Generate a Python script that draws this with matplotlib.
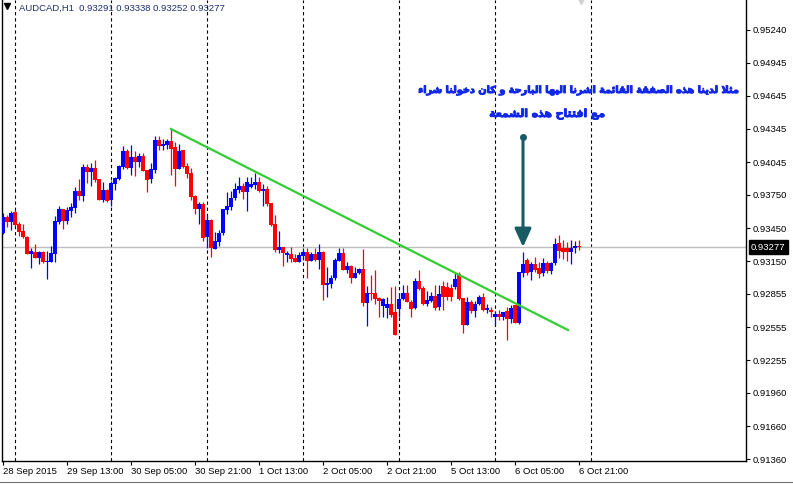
'''
AUDCAD H1 candles with trend line and a note
'''

import matplotlib.pyplot as plt
import matplotlib.patheffects as pe
from matplotlib.lines import Line2D

# hourly bars, index 0 = 28 Sep 2015 21:00
opens = [
    0.93405, 0.93549, 0.93504, 0.93594, 0.93486, 0.93423, 0.93369, 0.93215,
    0.93233, 0.93179, 0.93233, 0.93143, 0.93143, 0.93215, 0.93504, 0.93622,
    0.93513, 0.93604, 0.93631, 0.93784, 0.93739, 0.94001, 0.93956, 0.93992,
    0.93893, 0.93703, 0.93793, 0.93703, 0.93848, 0.93893, 0.94001, 0.94146,
    0.93992, 0.94092, 0.94046, 0.94101, 0.93974, 0.93893, 0.93974, 0.94245,
    0.94191, 0.94200, 0.94236, 0.94182, 0.93983, 0.94155, 0.94010, 0.93947,
    0.93739, 0.93622, 0.93667, 0.93369, 0.93522, 0.93260, 0.93323, 0.93405,
    0.93613, 0.93640, 0.93721, 0.93793, 0.93830, 0.93775, 0.93821, 0.93839,
    0.93866, 0.93784, 0.93803, 0.93676, 0.93486, 0.93251, 0.93278, 0.93206,
    0.93215, 0.93179, 0.93143, 0.93197, 0.93233, 0.93152, 0.93215, 0.93161,
    0.93233, 0.92935, 0.92944, 0.92998, 0.93152, 0.93224, 0.93070, 0.93107,
    0.92998, 0.93043, 0.93080, 0.92772, 0.92862, 0.92862, 0.92817, 0.92745,
    0.92727, 0.92763, 0.92691, 0.92718, 0.92808, 0.92862, 0.92781, 0.92727,
    0.92971, 0.92908, 0.92763, 0.92790, 0.92835, 0.92736, 0.92926, 0.92917,
    0.92908, 0.92917, 0.93034, 0.92817, 0.92573, 0.92781, 0.92700, 0.92763,
    0.92826, 0.92709, 0.92709, 0.92646, 0.92673, 0.92646, 0.92700, 0.92628,
    0.92754, 0.92591, 0.93043, 0.93161, 0.93052, 0.93125, 0.93089, 0.93043,
    0.93134, 0.93061, 0.93134, 0.93314, 0.93269, 0.93269, 0.93233, 0.93269,
    0.93291]
highs = [
    0.93585, 0.93567, 0.93604, 0.93613, 0.93504, 0.93486, 0.93378, 0.93269,
    0.93305, 0.93242, 0.93242, 0.93242, 0.93287, 0.93558, 0.93649, 0.93622,
    0.93640, 0.93676, 0.93821, 0.93893, 0.94028, 0.94028, 0.94037, 0.94065,
    0.93893, 0.93866, 0.93803, 0.93875, 0.93911, 0.94019, 0.94191, 0.94164,
    0.94200, 0.94146, 0.94128, 0.94128, 0.93974, 0.94037, 0.94282, 0.94282,
    0.94255, 0.94255, 0.94345, 0.94227, 0.94209, 0.94155, 0.94037, 0.93992,
    0.93748, 0.93685, 0.93685, 0.93567, 0.93531, 0.93414, 0.93432, 0.93622,
    0.93775, 0.93784, 0.93857, 0.93911, 0.93857, 0.93911, 0.93911, 0.93947,
    0.93911, 0.93848, 0.93830, 0.93676, 0.93567, 0.93423, 0.93278, 0.93242,
    0.93278, 0.93215, 0.93233, 0.93269, 0.93269, 0.93233, 0.93269, 0.93305,
    0.93242, 0.93098, 0.93025, 0.93179, 0.93269, 0.93269, 0.93143, 0.93116,
    0.93098, 0.93089, 0.93260, 0.92926, 0.93025, 0.93070, 0.92826, 0.92817,
    0.92826, 0.92917, 0.92926, 0.92862, 0.92935, 0.92935, 0.92799, 0.92998,
    0.93070, 0.92926, 0.92880, 0.92871, 0.92935, 0.92935, 0.92971, 0.92962,
    0.92944, 0.93043, 0.93052, 0.92817, 0.92826, 0.92799, 0.92790, 0.92844,
    0.92862, 0.92763, 0.92736, 0.92700, 0.92709, 0.92691, 0.92736, 0.92754,
    0.92754, 0.93052, 0.93233, 0.93179, 0.93143, 0.93188, 0.93143, 0.93179,
    0.93152, 0.93143, 0.93360, 0.93387, 0.93341, 0.93323, 0.93341, 0.93332,
    0.93338]
lows = [
    0.93396, 0.93459, 0.93432, 0.93468, 0.93378, 0.93360, 0.93215, 0.93089,
    0.93179, 0.93125, 0.93134, 0.92989, 0.93143, 0.93143, 0.93486, 0.93441,
    0.93486, 0.93549, 0.93585, 0.93703, 0.93694, 0.93857, 0.93830, 0.93866,
    0.93703, 0.93685, 0.93685, 0.93649, 0.93793, 0.93884, 0.93983, 0.93983,
    0.93929, 0.93920, 0.94001, 0.93965, 0.93775, 0.93857, 0.93947, 0.94155,
    0.94155, 0.94164, 0.93929, 0.93830, 0.93983, 0.93992, 0.93902, 0.93703,
    0.93576, 0.93486, 0.93332, 0.93269, 0.93188, 0.93260, 0.93287, 0.93387,
    0.93576, 0.93613, 0.93703, 0.93766, 0.93712, 0.93604, 0.93812, 0.93803,
    0.93775, 0.93649, 0.93649, 0.93468, 0.93233, 0.93224, 0.93107, 0.93143,
    0.93143, 0.93143, 0.93143, 0.93161, 0.92998, 0.93152, 0.93152, 0.93080,
    0.92799, 0.92826, 0.92908, 0.92980, 0.93152, 0.93070, 0.93043, 0.92953,
    0.92998, 0.93034, 0.92745, 0.92564, 0.92799, 0.92763, 0.92646, 0.92646,
    0.92637, 0.92646, 0.92483, 0.92646, 0.92799, 0.92781, 0.92646, 0.92718,
    0.92889, 0.92754, 0.92745, 0.92781, 0.92709, 0.92709, 0.92709, 0.92799,
    0.92790, 0.92899, 0.92799, 0.92501, 0.92573, 0.92682, 0.92646, 0.92754,
    0.92700, 0.92682, 0.92646, 0.92573, 0.92618, 0.92618, 0.92437, 0.92591,
    0.92591, 0.92582, 0.93007, 0.93025, 0.92980, 0.93052, 0.92998, 0.93016,
    0.93043, 0.93034, 0.93116, 0.93179, 0.93170, 0.93152, 0.93125, 0.93224,
    0.93252]
closes = [
    0.93549, 0.93504, 0.93585, 0.93477, 0.93414, 0.93369, 0.93215, 0.93242,
    0.93179, 0.93233, 0.93143, 0.93152, 0.93224, 0.93513, 0.93622, 0.93513,
    0.93613, 0.93640, 0.93784, 0.93739, 0.94001, 0.93956, 0.93992, 0.93884,
    0.93703, 0.93793, 0.93694, 0.93857, 0.93902, 0.94010, 0.94146, 0.93992,
    0.94092, 0.94046, 0.94101, 0.93965, 0.93884, 0.93983, 0.94245, 0.94191,
    0.94209, 0.94236, 0.94164, 0.93983, 0.94146, 0.94001, 0.93938, 0.93730,
    0.93622, 0.93667, 0.93360, 0.93522, 0.93269, 0.93332, 0.93405, 0.93622,
    0.93649, 0.93721, 0.93803, 0.93830, 0.93775, 0.93866, 0.93848, 0.93866,
    0.93784, 0.93803, 0.93667, 0.93477, 0.93251, 0.93278, 0.93224, 0.93224,
    0.93170, 0.93143, 0.93206, 0.93233, 0.93152, 0.93215, 0.93161, 0.93233,
    0.92935, 0.92953, 0.92998, 0.93161, 0.93224, 0.93070, 0.93107, 0.92998,
    0.93043, 0.93080, 0.92772, 0.92862, 0.92853, 0.92808, 0.92790, 0.92808,
    0.92763, 0.92664, 0.92483, 0.92808, 0.92862, 0.92781, 0.92718, 0.92971,
    0.92899, 0.92763, 0.92799, 0.92835, 0.92727, 0.92853, 0.92826, 0.92826,
    0.92826, 0.92989, 0.92808, 0.92573, 0.92781, 0.92700, 0.92763, 0.92826,
    0.92709, 0.92727, 0.92691, 0.92673, 0.92646, 0.92691, 0.92628, 0.92727,
    0.92591, 0.93052, 0.93125, 0.93043, 0.93125, 0.93070, 0.93034, 0.93134,
    0.93061, 0.93134, 0.93305, 0.93242, 0.93233, 0.93233, 0.93269, 0.93287,
    0.93277]

time_ticks = [0, 16, 32, 48, 64, 80, 96, 112, 128, 144]
time_labels = ['28 Sep 2015', '29 Sep 13:00', '30 Sep 05:00', '30 Sep 21:00',
               '1 Oct 13:00', '2 Oct 05:00', '2 Oct 21:00', '5 Oct 13:00',
               '6 Oct 05:00', '6 Oct 21:00']
day_breaks = [3, 27, 51, 75, 99, 123, 147]
price_ticks = [0.95240, 0.94945, 0.94645, 0.94345, 0.94045, 0.93750, 0.93450,
               0.93150, 0.92855, 0.92555, 0.92255, 0.91960, 0.91660, 0.91360]
last_price = 0.93277
header = 'AUDCAD,H1  0.93291 0.93338 0.93252 0.93277'

trend_bars = [42, 141.25]
trend_prices = [0.94345, 0.92528]
arrow_bar = 130
arrow_from = 0.94273
arrow_to = 0.93278

note_lines = ['مثلا لدينا هذه الصفقة القائمة اشرنا اليها البارحة و كان دخولنا شراء',
              'مع افتتاح هذه الشمعة']

# arabic letters -> first presentation form (isolated); dual joiners have 4 forms
DUAL = {'ئ': 0xFE89, 'ب': 0xFE8F, 'ت': 0xFE95, 'ث': 0xFE99, 'ج': 0xFE9D,
        'ح': 0xFEA1, 'خ': 0xFEA5, 'س': 0xFEB1, 'ش': 0xFEB5, 'ص': 0xFEB9,
        'ض': 0xFEBD, 'ط': 0xFEC1, 'ظ': 0xFEC5, 'ع': 0xFEC9, 'غ': 0xFECD,
        'ف': 0xFED1, 'ق': 0xFED5, 'ك': 0xFED9, 'ل': 0xFEDD, 'م': 0xFEE1,
        'ن': 0xFEE5, 'ه': 0xFEE9, 'ي': 0xFEF1}
RIGHT = {'آ': 0xFE81, 'أ': 0xFE83, 'ؤ': 0xFE85, 'إ': 0xFE87, 'ا': 0xFE8D,
         'ة': 0xFE93, 'د': 0xFEA9, 'ذ': 0xFEAB, 'ر': 0xFEAD, 'ز': 0xFEAF,
         'و': 0xFEED, 'ى': 0xFEEF}


def shape_arabic(text):
    '''
    Joins arabic letters and puts them in visual order
    '''
    out = []
    k = 0
    while k < len(text):
        c = text[k]
        prev = text[k - 1] if k > 0 else ''
        nxt = text[k + 1] if k + 1 < len(text) else ''
        joins_prev = prev in DUAL
        if c == 'ل' and nxt == 'ا':
            out.append(chr(0xFEFC if joins_prev else 0xFEFB))
            k += 2
            continue
        if c in DUAL:
            joins_next = nxt in DUAL or nxt in RIGHT
            form = {(True, True): 3, (True, False): 1,
                    (False, True): 2, (False, False): 0}[(joins_prev, joins_next)]
            out.append(chr(DUAL[c] + form))
        elif c in RIGHT:
            out.append(chr(RIGHT[c] + (1 if joins_prev else 0)))
        elif c == 'ء':
            out.append(chr(0xFE80))
        else:
            out.append(c)
        k += 1
    return ''.join(reversed(out))


plt.rcParams['font.family'] = ['Liberation Sans', 'DejaVu Sans']

fig = plt.figure(figsize=(7.93, 4.84), dpi=100)
ax = fig.add_axes([2 / 793, 1 - 461 / 484, 744 / 793, 461 / 484])

bull = '#0000ff'
bear = '#ff0000'
bars = range(len(opens))
cols = [bull if c >= o else bear for o, c in zip(opens, closes)]
bottoms = [min(o, c) for o, c in zip(opens, closes)]
sizes = [max(abs(c - o), 0.00006) for o, c in zip(opens, closes)]

ax.vlines(bars, lows, highs, colors=cols, lw=0.9, zorder=3)
ax.bar(bars, sizes, bottom=bottoms, width=0.8, color=cols, lw=0, zorder=4)

# day separators and last price line
for d in day_breaks:
    ax.axvline(d, color='black', lw=0.8, ls=(0, (3, 2.5)), zorder=1)
ax.axhline(last_price, color='#c0c0c0', lw=1, zorder=2)

# trend line and arrow
ax.plot(trend_bars, trend_prices, color='#32cd32', lw=1.6, zorder=5)
ax.annotate('', xy=(arrow_bar, arrow_to), xytext=(arrow_bar, arrow_from),
            arrowprops=dict(arrowstyle='-|>,head_width=0.5,head_length=1.1',
                            lw=2.2, color='#185b63', shrinkA=0, shrinkB=0),
            zorder=6)
ax.plot(arrow_bar, arrow_from, 'o', ms=4, color='#185b63', zorder=6)

# note text
note_color = '#1228e8'
heavy = [pe.withStroke(linewidth=0.7, foreground=note_color)]
ax.text(184, 0.94697, shape_arabic(note_lines[0]), ha='right', va='center',
        color=note_color, fontsize=7.0, fontweight='bold', family='DejaVu Sans',
        path_effects=heavy)
ax.text(150.5, 0.94480, shape_arabic(note_lines[1]), ha='right', va='center',
        color=note_color, fontsize=7.8, fontweight='bold', family='DejaVu Sans',
        path_effects=heavy)

ax.set_xlim(-0.25, 185.75)
ax.set_ylim(0.91344, 0.95511)

ax.yaxis.tick_right()
ax.set_yticks(price_ticks)
ax.set_yticklabels(['%.5f' % p for p in price_ticks])
ax.set_xticks(time_ticks)
ax.set_xticklabels(time_labels, ha='left')
ax.tick_params(axis='both', length=3, width=0.8, labelsize=6.8, pad=2,
               colors='black')
ax.tick_params(axis='x', pad=1)

for side in ['left', 'bottom', 'right']:
    ax.spines[side].set_linewidth(1)
    ax.spines[side].set_color('black')
ax.spines['top'].set_visible(False)

# current price box on the price scale
ax.text(1.0068, last_price, '%.5f' % last_price, transform=ax.get_yaxis_transform(),
        ha='left', va='center', color='white', fontsize=6.8,
        bbox=dict(boxstyle='square,pad=0.25', fc='black', ec='black'))

# chart shift handle
ax.plot(144.5, 0.95511, marker='v', ms=6, color='#d0d0d0', clip_on=False)

fig.text(19 / 793, 1 - 8 / 484, header, ha='left', va='center', fontsize=6.8,
         color='#1c2f6e')
fig.add_artist(Line2D([7 / 793], [1 - 6 / 484], marker='v', ms=4.5,
                      color='black', transform=fig.transFigure))
fig.add_artist(Line2D([0, 1], [1 - 481.5 / 484] * 2, color='#707070', lw=0.8,
                      transform=fig.transFigure))

fig.savefig('out.png', dpi=100)
